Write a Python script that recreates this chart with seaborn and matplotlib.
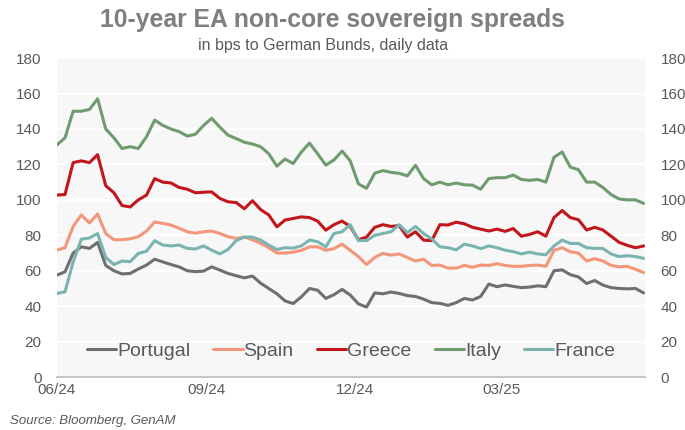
import matplotlib
matplotlib.use("Agg")
import pandas as pd
import matplotlib.pyplot as plt
import seaborn as sns

# values every 5 days, 01/06/2024 -> 27/05/2025 (bps)
portugal = [57.5, 59.4, 70, 73.5, 72.6, 76, 63, 60, 58.2, 58.5, 61, 63.2,
            66.5, 65, 63.5, 62.2, 60, 59.5, 59.8, 62.2, 60.4, 58.5, 57.2, 56,
            57, 53, 50, 47, 43, 41.5, 45.3, 50, 49, 44.4, 46.5,
            49.5, 46.3, 41.3, 39.5, 47.5, 47, 48, 47.2, 46, 45.5, 44, 42,
            41.6, 40.5, 42, 44.4, 43.5, 45.5, 52.5, 51, 52, 51.2, 50.5, 50.8,
            51.5, 51, 60, 60.5, 57.8, 56.5, 52.8, 54.5, 51.9, 50.5, 50, 49.8, 50, 47.5]
spain = [71.6, 73, 85, 91.5, 87, 92, 81, 77.5, 77.5, 78, 79.2, 82.4,
         87.5, 86.7, 85.8, 84, 82, 81.2, 82, 82.4, 81, 79.2, 78.2, 79,
         77.5, 75.5, 73, 70, 70, 70.5, 71.5, 73.5, 73.5, 71.5, 72.5,
         75, 71.5, 68, 63.5, 67.5, 69.8, 68.8, 69.5, 67.5, 65.5, 66.5, 63,
         63.2, 61.5, 61.5, 63, 62, 63.2, 63, 64, 63, 62.5, 62.5, 63,
         63.2, 62.5, 71.5, 73, 70.7, 70, 65.5, 66.8, 65.5, 63, 62.2, 62.5, 60.8, 59]
greece = [102.7, 103, 121, 122, 121, 125.5, 108, 104, 96.8, 96, 100, 102.7,
          112, 110, 109.5, 107, 106, 104, 104.3, 104.5, 100.8, 98.9, 98.5, 95,
          99.5, 94.5, 91.5, 84.8, 88.6, 89.5, 90.4, 90, 88, 82.9, 86,
          88, 85, 77.5, 79, 84.5, 86, 85, 85.5, 79, 82, 77.3, 77,
          86, 85.8, 87.4, 86.5, 84.5, 83.5, 82.4, 83.5, 82.2, 83.8, 79.5, 80.5,
          82, 79.5, 90, 94, 90, 88.8, 83, 84.5, 83, 79.5, 76, 74.3, 73, 74]
italy = [131, 135, 150, 150, 151, 157, 140, 135, 129, 130, 129, 135.6,
         145, 142, 140, 138.5, 136, 137, 142, 146, 141, 136.5, 134.6, 132.5,
         131.5, 130, 126, 119, 123, 120.5, 127, 132, 126, 119.6, 122.5,
         127.5, 122, 109, 106.5, 115, 116.5, 115.5, 115, 113.5, 119.5, 112, 108.5,
         110, 108.5, 109.5, 108.5, 108.3, 106, 112, 112.5, 112.5, 114, 111.5, 111,
         111.5, 110, 124, 127, 118.5, 117, 110, 110, 107, 103, 100.5, 100, 100, 98]
france = [47.2, 48.1, 65, 77.8, 78.5, 81, 67.5, 63.5, 65.5, 65.1, 69.8, 71,
          77, 74.5, 74, 74.5, 72.6, 72.3, 74, 71.6, 69.5, 72, 77, 79,
          79, 77.3, 74.5, 72, 73, 72.8, 74, 77.3, 76.4, 73.5, 81,
          82, 86, 77, 77, 80, 81, 82, 86, 81.5, 85, 81, 78,
          73.5, 73, 71.8, 75, 74, 72.5, 74, 73, 71.6, 70.8, 69.5, 70.5,
          69.5, 69, 74, 77.3, 75.4, 75.4, 73, 72.6, 72.6, 69.5, 68, 68.5, 68, 67]

countries = ["Portugal", "Spain", "Greece", "Italy", "France"]
colors = ["#6F6F6F", "#F4967A", "#C0161C", "#6F9B6F", "#7AB4B1"]
tick_dates = ["2024-06-01", "2024-09-01", "2024-12-01", "2025-03-01"]
tick_labels = ["06/24", "09/24", "12/24", "03/25"]

dates = pd.date_range("2024-06-01", periods=len(italy), freq="5D")
df = pd.DataFrame({"Date": dates, "Portugal": portugal, "Spain": spain,
                   "Greece": greece, "Italy": italy, "France": france})
df = df.melt(id_vars="Date", var_name="Country", value_name="Spread")

sns.set_theme(style="white")
plt.rcParams["font.family"] = ["Liberation Sans", "DejaVu Sans"]

grey = "#595959"
fig, ax = plt.subplots(figsize=(6.85, 4.3), dpi=100)
fig.subplots_adjust(left=0.083, right=0.942, bottom=0.123, top=0.865)
ax.set_facecolor("#F7F7F7")

sns.lineplot(data=df, x="Date", y="Spread", hue="Country", hue_order=countries,
             palette=colors, linewidth=2.2, ax=ax)

ax.set_ylim(0, 180)
ax.set_yticks(range(0, 181, 20))
ax.set_xlim(pd.Timestamp("2024-06-01"), pd.Timestamp("2025-05-28"))
ax.set_xticks(pd.to_datetime(tick_dates))
ax.set_xticklabels(tick_labels)
ax.set_xlabel("")
ax.set_ylabel("")
ax.grid(axis="y", color="white", linewidth=1.3)
ax.set_axisbelow(True)
for s in ["top", "left", "right"]:
    ax.spines[s].set_visible(False)
ax.spines["bottom"].set_color("#BFBFBF")
ax.tick_params(axis="y", length=0, pad=11, labelsize=11, labelcolor=grey)
ax.tick_params(axis="x", length=0, pad=4, labelsize=11, labelcolor=grey)

ax2 = ax.twinx()
ax2.set_ylim(0, 180)
ax2.set_yticks(range(0, 181, 20))
for s in ax2.spines.values():
    s.set_visible(False)
ax2.tick_params(axis="y", length=0, pad=11, labelsize=11, labelcolor=grey)
ax2.grid(False)

handles, labels = ax.get_legend_handles_labels()
ax.legend(handles, labels, ncol=5, loc="center", bbox_to_anchor=(0.5, 0.082),
          frameon=False, fontsize=14, labelcolor=grey, handlelength=1.5,
          handletextpad=0.05, columnspacing=1.2)

fig.text(0.485, 0.953, "10-year EA non-core sovereign spreads", ha="center", va="center",
         fontsize=17.8, fontweight="bold", color="#7F7F7F")
fig.text(0.472, 0.895, "in bps to German Bunds, daily data", ha="center", va="center",
         fontsize=11.5, color=grey)
fig.text(0.015, 0.021, "Source: Bloomberg, GenAM", ha="left", va="center",
         fontsize=9.5, style="italic", color=grey)

fig.savefig("out.png", dpi=100)
